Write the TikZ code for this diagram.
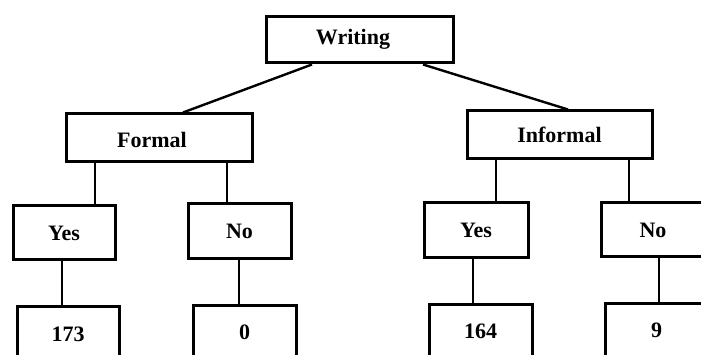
\documentclass[tikz,border=0pt]{standalone}
\usepackage{fontspec}
\setmainfont{Liberation Serif}
\begin{document}
\begin{tikzpicture}[x=1pt,y=-1pt,
  box/.style={draw=black, line width=3pt, fill=none, inner sep=0pt,
    font=\bfseries\fontsize{22}{26}\selectfont, text=black},
  link/.style={draw=black, line width=2.4pt}]
\useasboundingbox (0,0) rectangle (701,355);
\clip (0,0) rectangle (701,355);
\fill[white] (0,0) rectangle (701,355);
% top
\node[box, minimum width=187pt, minimum height=46pt] (W) at (359.5,40) {};
\node[font=\bfseries\fontsize{22}{26}\selectfont] at (353,39) {Writing};
% second level
\node[box, minimum width=186pt, minimum height=48pt] (F) at (159,138) {};
\node[font=\bfseries\fontsize{22}{26}\selectfont] at (152,140) {Formal};
\node[box, minimum width=185pt, minimum height=48pt] (I) at (559.5,135) {Informal};
% third level
\node[box, minimum width=102pt, minimum height=54pt] (Y1) at (64,233) {Yes};
\node[box, minimum width=103pt, minimum height=55pt] (N1) at (239.5,231.5) {No};
\node[box, minimum width=104pt, minimum height=55pt] (Y2) at (476,230.5) {Yes};
\node[box, minimum width=104pt, minimum height=54pt] (N2) at (653,230) {No};
% leaves
\node[box, minimum width=102pt, minimum height=55pt] (L1) at (68,334) {173};
\node[box, minimum width=103pt, minimum height=55pt] (L2) at (244.5,332.5) {0};
\node[box, minimum width=103pt, minimum height=55pt] (L3) at (480.5,331.5) {164};
\node[box, minimum width=103pt, minimum height=55pt] (L4) at (656.5,330.5) {9};
% connectors
\draw[link] (W.south -| 312,0) -- (F.north -| 183,0);
\draw[link] (W.south -| 423,0) -- (I.north -| 568,0);
\draw[link] (F.south -| 95,0) -- (Y1.north -| 95,0);
\draw[link] (F.south -| 227,0) -- (N1.north -| 227,0);
\draw[link] (I.south -| 496,0) -- (Y2.north -| 496,0);
\draw[link] (I.south -| 629,0) -- (N2.north -| 629,0);
\draw[link] (Y1.south -| 62,0) -- (L1.north -| 62,0);
\draw[link] (N1.south -| 239,0) -- (L2.north -| 239,0);
\draw[link] (Y2.south -| 473,0) -- (L3.north -| 473,0);
\draw[link] (N2.south -| 659,0) -- (L4.north -| 659,0);
\end{tikzpicture}
\end{document}
